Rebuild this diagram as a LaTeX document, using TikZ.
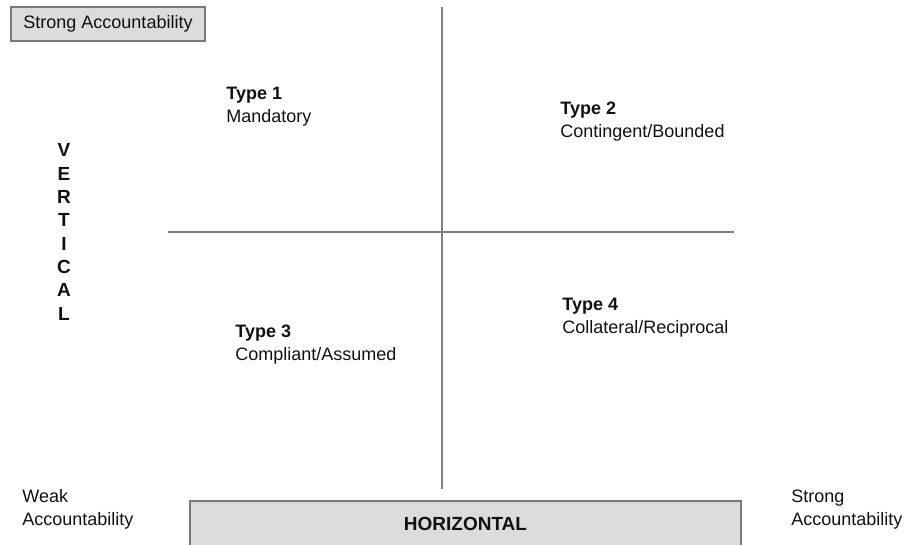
\documentclass[tikz,border=0pt]{standalone}
\usepackage{fontspec}
\setmainfont{Liberation Sans}
\usepackage{tikz}
\usetikzlibrary{positioning}
\definecolor{axisgray}{HTML}{808080}
\definecolor{boxgray}{HTML}{DCDCDC}
\definecolor{boxline}{HTML}{7A7A7A}
\definecolor{inkblack}{HTML}{111111}
\tikzset{
    every node/.style={font=\fontsize{9}{11.5}\selectfont,text=inkblack},
    axis/.style={draw=axisgray,line width=0.8pt},
    labelbox/.style={rectangle,draw=boxline,fill=boxgray,line width=0.7pt,inner sep=0pt},
    quad/.style={anchor=base west,align=left,inner sep=0pt},
    vlet/.style={anchor=base,inner sep=0pt,font=\fontsize{9.5}{11.5}\selectfont\bfseries}
}

\begin{document}
\begin{tikzpicture}[x=0.5pt,y=-0.5pt]
    \useasboundingbox (0,0) rectangle (912,545);
    % quadrant axes
    \coordinate (top) at (442,7);
    \coordinate (bot) at (442,489);
    \coordinate (lft) at (168,232);
    \coordinate (rgt) at (734,232);
    \draw[axis] (top)--(bot);
    \draw[axis] (lft)--(rgt);
    % boxes
    \node[labelbox,minimum width=97pt,minimum height=17pt] (strongv) at (108,24) {Strong Accountability};
    \node[labelbox,minimum width=275.5pt,minimum height=23pt,font=\fontsize{9.5}{11.5}\selectfont\bfseries] (horiz) at (465.5,524) {HORIZONTAL};
    % quadrants (base = last line)
    \node[quad] (type1) at (226,123) {\textbf{Type 1}\\Mandatory};
    \node[quad] (type2) at (560,138) {\textbf{Type 2}\\Contingent/Bounded};
    \node[quad] (type3) at (235,361) {\textbf{Type 3}\\Compliant/Assumed};
    \node[quad] (type4) at (562,334) {\textbf{Type 4}\\Collateral/Reciprocal};
    % vertical axis title
    \foreach \ch [count=\i from 0] in {V,E,R,T,I,C,A,L}
        \node[vlet] (vert\i) at (64,157+23.3*\i) {\ch};
    % horizontal ends
    \node[quad] (weakh) at (22,526) {Weak\\Accountability};
    \node[quad] (strongh) at (791,526) {Strong\\Accountability};
\end{tikzpicture}
\end{document}
